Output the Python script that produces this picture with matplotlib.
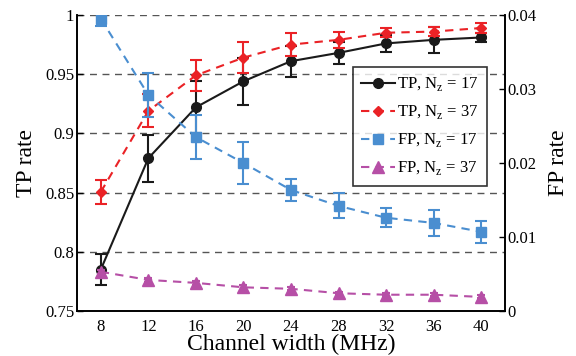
import numpy as np
import matplotlib
matplotlib.use('Agg')
import matplotlib.pyplot as plt

plt.rcParams['font.family'] = ['Liberation Serif', 'DejaVu Serif']
plt.rcParams['mathtext.fontset'] = 'custom'
plt.rcParams['mathtext.rm'] = 'Liberation Serif'

# data
width = [8, 12, 16, 20, 24, 28, 32, 36, 40]

tp17 = [0.785, 0.879, 0.922, 0.944, 0.961, 0.968, 0.976, 0.979, 0.981]
tp17_err = [0.013, 0.020, 0.022, 0.020, 0.013, 0.009, 0.007, 0.011, 0.004]

tp37 = [0.8505, 0.919, 0.949, 0.964, 0.975, 0.979, 0.985, 0.986, 0.989]
tp37_err = [0.010, 0.014, 0.013, 0.013, 0.010, 0.007, 0.004, 0.004, 0.004]

fp17 = [0.0395, 0.0292, 0.0235, 0.0200, 0.01635, 0.0142, 0.0126, 0.0119, 0.0107]
fp17_err = [0.0010, 0.0030, 0.0030, 0.0029, 0.0015, 0.0017, 0.0013, 0.0018, 0.0015]

fp37 = [0.0053, 0.0042, 0.0038, 0.0032, 0.0030, 0.0024, 0.0022, 0.0022, 0.0019]
fp37_err = [0.0003, 0.0003, 0.0003, 0.0003, 0.0002, 0.0002, 0.0002, 0.0002, 0.0002]

c_black = '#1a1a1a'
c_red = '#ea2226'
c_blue = '#4a8ed0'
c_mag = '#b64fa6'

fig = plt.figure(figsize=(5.76, 3.56), dpi=100)
ax = fig.add_axes([0.1337, 0.1264, 0.743, 0.8315])
ax2 = ax.twinx()

# dashed horizontal grid at the left ticks
for yv in [0.8, 0.85, 0.9, 0.95, 1.0]:
    ax.axhline(yv, color='#555555', lw=1.0, ls=(0, (5, 4)), zorder=0)

h1 = ax.errorbar(width, tp17, yerr=tp17_err, color=c_black, lw=1.5, marker='o', ms=7,
                 capsize=4, capthick=1.5, elinewidth=1.5, label=r'TP, N$_\mathregular{z}$ = 17', zorder=3)
h2 = ax.errorbar(width, tp37, yerr=tp37_err, color=c_red, lw=1.5, ls=(0, (4, 3)), marker='D', ms=5.5,
                 capsize=4, capthick=1.5, elinewidth=1.5, label=r'TP, N$_\mathregular{z}$ = 37', zorder=4)
h3 = ax2.errorbar(width, fp17, yerr=fp17_err, color=c_blue, lw=1.5, ls=(0, (4, 3)), marker='s', ms=7,
                  capsize=4, capthick=1.5, elinewidth=1.5, label=r'FP, N$_\mathregular{z}$ = 17', zorder=3)
h4 = ax2.errorbar(width, fp37, yerr=fp37_err, color=c_mag, lw=1.5, ls=(0, (4, 3)), marker='^', ms=8,
                  capsize=3, capthick=1.5, elinewidth=1.5, label=r'FP, N$_\mathregular{z}$ = 37', zorder=4)

ax.set_xlim(6, 42)
ax.set_ylim(0.75, 1.0)
ax2.set_ylim(0, 0.04)
ax.set_xticks(width)
ax.set_yticks([0.75, 0.8, 0.85, 0.9, 0.95, 1.0])
ax.set_yticklabels(['0.75', '0.8', '0.85', '0.9', '0.95', '1'])
ax2.set_yticks([0, 0.01, 0.02, 0.03, 0.04])
ax2.set_yticklabels(['0', '0.01', '0.02', '0.03', '0.04'])

for a in (ax, ax2):
    a.tick_params(direction='in', labelsize=12, length=4, width=1, pad=2)
    a.spines['top'].set_visible(False)
    for s in ['left', 'right', 'bottom']:
        a.spines[s].set_linewidth(1.2)
ax.tick_params(axis='x', length=0, pad=6)

ax.set_xlabel('Channel width (MHz)', fontsize=17, labelpad=-1)
ax.set_ylabel('TP rate', fontsize=17, labelpad=6)
ax2.set_ylabel('FP rate', fontsize=17, labelpad=8)

# legend shows only line + marker, no error bars
handles = [h[0] for h in (h1, h2, h3, h4)]
labels = [h.get_label() for h in (h1, h2, h3, h4)]
leg = ax2.legend(handles, labels, loc='upper left', bbox_to_anchor=(0.645, 0.824),
                 fontsize=12, frameon=True, fancybox=False, edgecolor='black',
                 handlelength=2.0, handletextpad=0.15, labelspacing=0.6, borderpad=0.5,
                 borderaxespad=0)
leg.get_frame().set_linewidth(1.2)
leg.set_zorder(10)

fig.savefig('out.png', dpi=100)
